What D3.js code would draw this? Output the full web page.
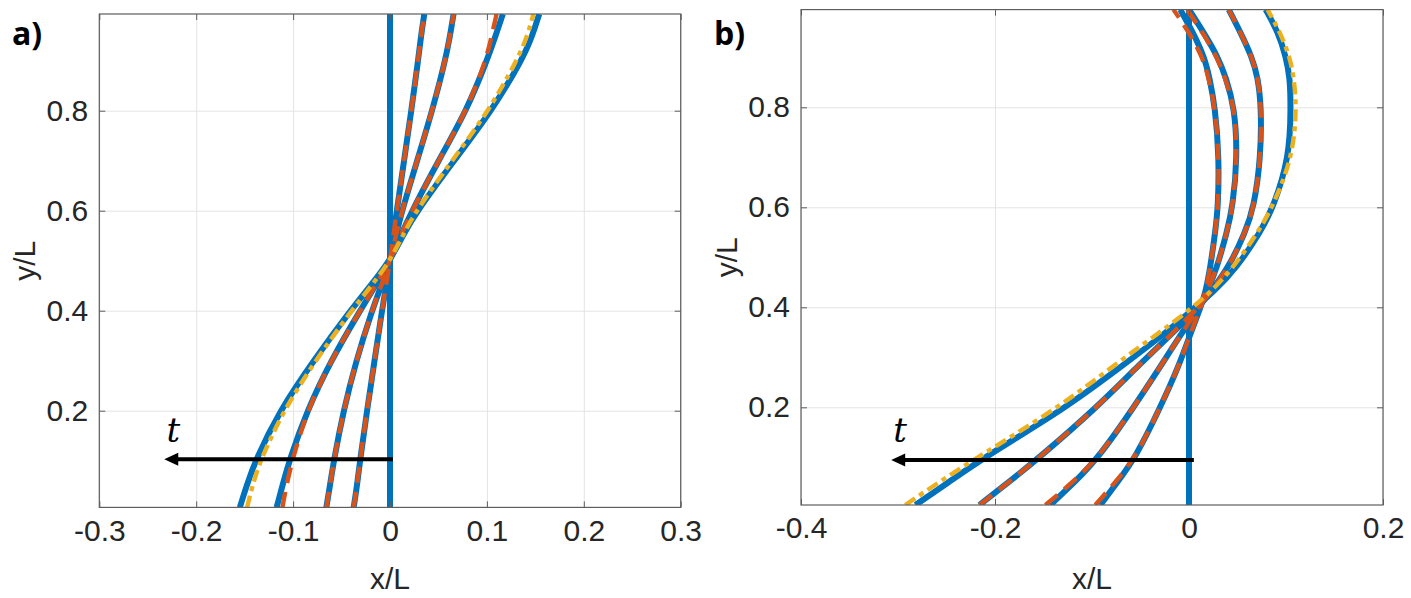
<!DOCTYPE html>
<html>
<head>
<meta charset="utf-8">
<script src="https://cdn.jsdelivr.net/npm/d3@7"></script>
<style>
  body { margin: 0; background: #fff; }
</style>
</head>
<body>
<div id="chart"></div>
<script>
// ---- panel a) : sampled heights and x/L of each profile
const yA = [0.0066, 0.05, 0.1, 0.2, 0.3, 0.4, 0.45, 0.5, 0.55, 0.6, 0.7, 0.8, 0.9, 0.95, 0.9934]
const a0 = [0, 0, 0, 0, 0, 0, 0, 0, 0, 0, 0, 0, 0, 0, 0]
const a1 = [-0.0375, -0.034, -0.031, -0.0237, -0.016, -0.0083, -0.004, 0, 0.0035, 0.007, 0.0145, 0.022, 0.029, 0.032, 0.0354]
const a2 = [-0.0657, -0.062, -0.058, -0.048, -0.035, -0.0186, -0.009, 0, 0.006, 0.0124, 0.028, 0.0436, 0.057, 0.062, 0.0656]
const a3 = [-0.117, -0.111, -0.104, -0.0856, -0.061, -0.031, -0.015, 0, 0.011, 0.0227, 0.05, 0.079, 0.1, 0.109, 0.1165]
const a4 = [-0.155, -0.148, -0.139, -0.114, -0.079, -0.041, -0.02, 0, 0.013, 0.028, 0.066, 0.105, 0.136, 0.147, 0.154]
const aDash1 = [-0.0375, -0.034, -0.031, -0.0237, -0.016, -0.0083, -0.004, 0, 0.0035, 0.007, 0.0145, 0.022, 0.029, 0.032, 0.0354]
const aDash2 = [-0.0657, -0.062, -0.058, -0.048, -0.035, -0.0186, -0.009, 0, 0.006, 0.0124, 0.028, 0.0436, 0.057, 0.062, 0.0656]
const aDash3 = [-0.111, -0.107, -0.101, -0.0856, -0.061, -0.031, -0.015, 0, 0.011, 0.0227, 0.05, 0.079, 0.099, 0.105, 0.11]
const aDashDot = [-0.1475, -0.142, -0.134, -0.11, -0.077, -0.04, -0.019, 0, 0.013, 0.027, 0.064, 0.102, 0.131, 0.142, 0.148]

// ---- panel b)
const yB = [0.0046, 0.05, 0.1, 0.2, 0.28, 0.35, 0.4, 0.43, 0.48, 0.55, 0.6, 0.7, 0.8, 0.86, 0.9, 0.95, 0.9954]
const b0 = [0, 0, 0, 0, 0, 0, 0, 0, 0, 0, 0, 0, 0, 0, 0, 0, 0]
const b1 = [-0.0914, -0.074, -0.055, -0.0296, -0.011, 0.002, 0.012, 0.017, 0.022, 0.027, 0.03, 0.031, 0.027, 0.021, 0.016, 0.004, -0.009]
const b2 = [-0.143, -0.118, -0.093, -0.057, -0.03, -0.007, 0.011, 0.0186, 0.029, 0.039, 0.045, 0.05, 0.047, 0.038, 0.03, 0.015, 0]
const b3 = [-0.216, -0.186, -0.154, -0.095, -0.054, -0.016, 0.01, 0.022, 0.041, 0.058, 0.067, 0.074, 0.0746, 0.071, 0.065, 0.053, 0.041]
const b4 = [-0.282, -0.248, -0.211, -0.126, -0.071, -0.023, 0.006, 0.025, 0.0495, 0.0735, 0.087, 0.1035, 0.105, 0.104, 0.1, 0.092, 0.079]
const bDash1 = [-0.0966, -0.076, -0.055, -0.0296, -0.011, 0.002, 0.012, 0.017, 0.022, 0.027, 0.03, 0.031, 0.027, 0.02, 0.014, 0, -0.016]
const bDash2 = [-0.148, -0.12, -0.093, -0.057, -0.03, -0.007, 0.011, 0.0186, 0.029, 0.039, 0.045, 0.05, 0.047, 0.037, 0.029, 0.014, -0.002]
const bDash3 = [-0.216, -0.186, -0.154, -0.095, -0.054, -0.016, 0.01, 0.022, 0.041, 0.058, 0.067, 0.074, 0.0746, 0.071, 0.065, 0.053, 0.041]
const bDashDot = [-0.2925, -0.258, -0.218, -0.134, -0.08, -0.03, 0.004, 0.022, 0.046, 0.071, 0.086, 0.107, 0.111, 0.108, 0.104, 0.094, 0.081]

// ticks
const xTicksA = [-0.3, -0.2, -0.1, 0, 0.1, 0.2, 0.3]
const xTicksB = [-0.4, -0.2, 0, 0.2]
const yTicks = [0.2, 0.4, 0.6, 0.8]

// time arrows: [x start, x tip], y level ; label anchor [x, y]
const arrowA = { x: [0.003, -0.233], y: 0.103, label: [-0.2306, 0.137] }
const arrowB = { x: [0.005, -0.307], y: 0.0946, label: [-0.305, 0.1306] }

const W = 1411
const H = 598
const colors = {
  blue: '#0072BD',
  orange: '#D95319',
  yellow: '#EDB120',
  text: '#262626',
  axis: '#5e5e5e',
  grid: '#e4e4e4'
}
const tickFont = '"Liberation Sans", Arial, sans-serif'

const panels = [
  {
    id: 'a', tag: 'a)', tagX: 12,
    xDomain: [-0.3, 0.3], xRange: [99.3, 680.7],
    yDomain: [0.0066, 0.9934], yRange: [507.4, 14],
    xTicks: xTicksA, ys: yA,
    solid: [a0, a1, a2, a3, a4], dashed: [aDash1, aDash2, aDash3], dashDot: aDashDot,
    arrow: arrowA
  },
  {
    id: 'b', tag: 'b)', tagX: 714,
    xDomain: [-0.4, 0.2], xRange: [801, 1383],
    yDomain: [0.0046, 0.9954], yRange: [505, 9.6],
    xTicks: xTicksB, ys: yB,
    solid: [b0, b1, b2, b3, b4], dashed: [bDash1, bDash2, bDash3], dashDot: bDashDot,
    arrow: arrowB
  }
]

const svg = d3.select('#chart').append('svg')
  .attr('width', W).attr('height', H)
  .style('background', '#fff')

const fmt = (d) => (d === 0 ? '0' : String(+d.toFixed(1)))

const drawPanel = (p) => {
  const x = d3.scaleLinear().domain(p.xDomain).range(p.xRange)
  const y = d3.scaleLinear().domain(p.yDomain).range(p.yRange)
  const [x0, x1] = p.xRange
  const [yb, yt] = p.yRange
  const g = svg.append('g').attr('class', `panel-${p.id}`)

  g.append('clipPath').attr('id', `clip-${p.id}`)
    .append('rect').attr('x', x0).attr('y', yt).attr('width', x1 - x0).attr('height', yb - yt)

  // grid
  g.append('g')
    .attr('transform', `translate(0,${yb})`)
    .call(d3.axisBottom(x).tickValues(p.xTicks).tickSize(-(yb - yt)).tickFormat(''))
    .call((s) => {
      s.select('.domain').remove()
      s.selectAll('.tick line').attr('stroke', colors.grid)
    })
  g.append('g')
    .attr('transform', `translate(${x0},0)`)
    .call(d3.axisLeft(y).tickValues(yTicks).tickSize(-(x1 - x0)).tickFormat(''))
    .call((s) => {
      s.select('.domain').remove()
      s.selectAll('.tick line').attr('stroke', colors.grid)
    })

  // curves, smoothed through the read-off samples
  const line = (xs) => d3.line()
    .x((d) => x(d))
    .y((d, i) => y(p.ys[i]))
    .curve(d3.curveBasis)(xs)

  const curves = g.append('g').attr('clip-path', `url(#clip-${p.id})`)
  p.solid.forEach((xs) => {
    curves.append('path').attr('d', line(xs))
      .attr('fill', 'none').attr('stroke', colors.blue).attr('stroke-width', 6)
  })
  p.dashed.forEach((xs) => {
    curves.append('path').attr('d', line(xs))
      .attr('fill', 'none').attr('stroke', colors.orange).attr('stroke-width', 4.4)
      .attr('stroke-dasharray', '16,9')
  })
  curves.append('path').attr('d', line(p.dashDot))
    .attr('fill', 'none').attr('stroke', colors.yellow).attr('stroke-width', 4.4)
    .attr('stroke-dasharray', '12,5,5,5')

  // axes: ticks inward on all four sides
  const styleAxis = (s) => {
    s.select('.domain').remove()
    s.selectAll('.tick line').attr('stroke', colors.axis)
    s.selectAll('.tick text')
      .style('font-family', tickFont)
      .style('font-size', '30px')
      .style('fill', colors.text)
  }
  g.append('g').attr('transform', `translate(0,${yb})`)
    .call(d3.axisBottom(x).tickValues(p.xTicks).tickSize(-6).tickPadding(12).tickFormat(fmt))
    .call(styleAxis)
  g.append('g').attr('transform', `translate(0,${yt})`)
    .call(d3.axisTop(x).tickValues(p.xTicks).tickSize(-6).tickFormat(''))
    .call(styleAxis)
  g.append('g').attr('transform', `translate(${x0},0)`)
    .call(d3.axisLeft(y).tickValues(yTicks).tickSize(-6).tickPadding(11).tickFormat(fmt))
    .call(styleAxis)
  g.append('g').attr('transform', `translate(${x1},0)`)
    .call(d3.axisRight(y).tickValues(yTicks).tickSize(-6).tickFormat(''))
    .call(styleAxis)

  g.append('rect')
    .attr('x', x0).attr('y', yt).attr('width', x1 - x0).attr('height', yb - yt)
    .attr('fill', 'none').attr('stroke', colors.axis).attr('stroke-width', 1.2)

  // axis labels
  g.append('text')
    .attr('x', (x0 + x1) / 2).attr('y', 589)
    .attr('text-anchor', 'middle')
    .style('font-family', tickFont).style('font-size', '30px').style('fill', colors.text)
    .text('x/L')
  g.append('text')
    .attr('transform', `translate(${x0 - 64},${(yb + yt) / 2}) rotate(-90)`)
    .attr('text-anchor', 'middle')
    .style('font-family', tickFont).style('font-size', '30px').style('fill', colors.text)
    .text('y/L')

  // panel tag
  g.append('text')
    .attr('x', p.tagX).attr('y', 45)
    .style('font-family', '"Open Sans", "Noto Sans", sans-serif')
    .style('font-weight', '700').style('font-size', '32px').style('fill', '#000')
    .text(p.tag)

  // time arrow
  const ay = y(p.arrow.y)
  const tip = x(p.arrow.x[1])
  g.append('line')
    .attr('x1', x(p.arrow.x[0])).attr('x2', tip + 10)
    .attr('y1', ay).attr('y2', ay)
    .attr('stroke', '#000').attr('stroke-width', 4)
  g.append('path')
    .attr('d', `M${tip},${ay}L${tip + 14},${ay - 6.5}L${tip + 14},${ay + 6.5}Z`)
    .attr('fill', '#000')
  g.append('text')
    .attr('x', x(p.arrow.label[0])).attr('y', y(p.arrow.label[1]))
    .style('font-family', '"DejaVu Serif", "Liberation Serif", serif')
    .style('font-style', 'italic').style('font-size', '34px').style('fill', '#000')
    .text('t')
}

panels.forEach(drawPanel)
</script>
</body>
</html>
